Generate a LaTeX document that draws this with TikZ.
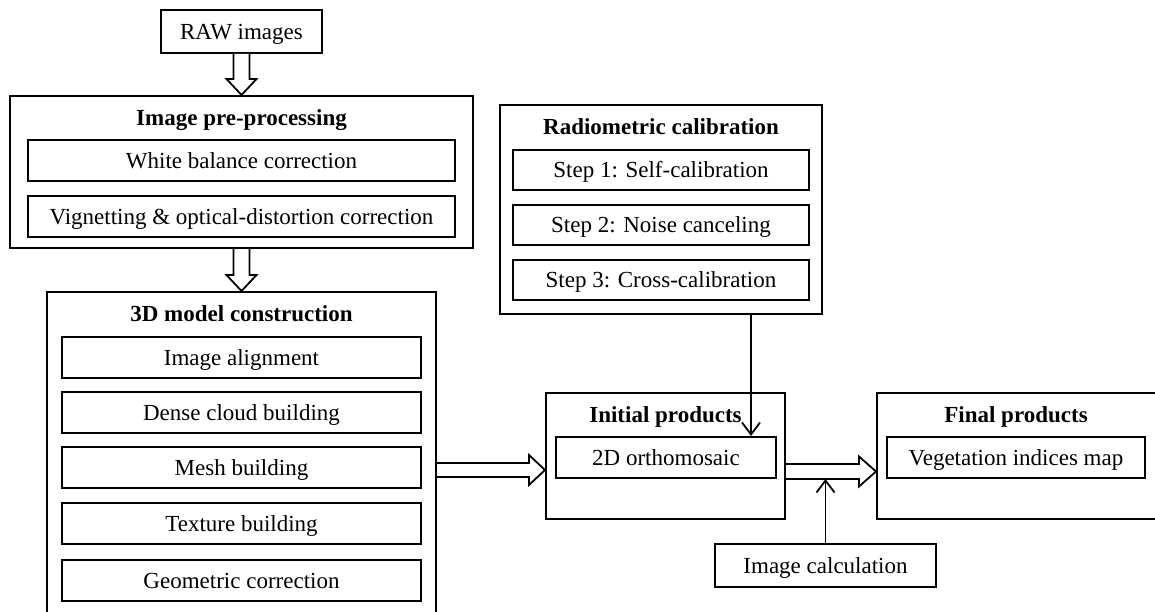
\documentclass[tikz,border=0pt]{standalone}
\usepackage{fontspec}
\setmainfont{Liberation Serif}
\usetikzlibrary{calc,arrows.meta}
\begin{document}
\begin{tikzpicture}[x=1pt,y=-1pt,
  every node/.style={font=\fontsize{23}{27}\selectfont,text height=15.2pt,text depth=0pt},
  outerbox/.style={draw,line width=2pt,inner sep=0pt},
  innerbox/.style={draw,line width=2pt,inner sep=0pt,minimum height=41pt},
  ttl/.style={font=\fontsize{23}{27}\selectfont\bfseries,inner sep=0pt},
  hollow/.style={draw,line width=1.8pt,fill=white,line join=miter},
  conn/.style={line width=1.8pt,-{Straight Barb[length=12pt,width=18pt,line width=1.8pt]}}]
\useasboundingbox (0,0) rectangle (1155,612);
\clip (0,0) rectangle (1155,612);
\fill[white] (0,0) rectangle (1155,612);
% RAW
\node[innerbox,minimum width=161pt,minimum height=43pt] (raw) at (241.5,31.5) {RAW images};
% pre-processing
\node[outerbox,minimum width=463pt,minimum height=152pt] (pre) at (241.5,172) {};
\node[ttl] (pret) at (241.5,118) {Image pre-processing};
\node[innerbox,minimum width=427pt] (wb) at (241.5,160.5) {White balance correction};
\node[innerbox,minimum width=427pt] (vig) at (241.5,216.5) {Vignetting \& optical-distortion correction};
% 3D model
\node[outerbox,minimum width=389pt,minimum height=338pt] (m3d) at (241.5,461) {};
\node[ttl] (m3dt) at (241.5,314) {3D model construction};
\node[innerbox,minimum width=359pt] (ia) at (241.5,357.5) {Image alignment};
\node[innerbox,minimum width=359pt] (dc) at (241.5,412.5) {Dense cloud building};
\node[innerbox,minimum width=359pt] (mb) at (241.5,467.5) {Mesh building};
\node[innerbox,minimum width=359pt] (tb) at (241.5,523.5) {Texture building};
\node[innerbox,minimum width=359pt] (gc) at (241.5,580.5) {Geometric correction};
% radiometric
\node[outerbox,minimum width=322pt,minimum height=209pt] (rad) at (661,209.5) {};
\node[ttl] (radt) at (661,127) {Radiometric calibration};
\node[innerbox,minimum width=296pt,minimum height=40pt] (s1) at (661,170) {Step 1: Self-calibration};
\node[innerbox,minimum width=296pt,minimum height=40pt] (s2) at (661,225) {Step 2: Noise canceling};
\node[innerbox,minimum width=296pt,minimum height=40pt] (s3) at (661,280) {Step 3: Cross-calibration};
% initial
\node[outerbox,minimum width=239pt,minimum height=126pt] (init) at (665.5,456) {};
\node[ttl] (initt) at (665.5,415) {Initial products};
\node[innerbox,minimum width=220pt] (ortho) at (666,457.5) {2D orthomosaic};
% final
\node[outerbox,minimum width=285pt,minimum height=126pt] (fin) at (1019.5,456) {};
\node[ttl] (fint) at (1016,415) {Final products};
\node[innerbox,minimum width=258pt] (veg) at (1016,457.5) {Vegetation indices map};
% calc
\node[innerbox,minimum width=221pt,minimum height=43pt] (calc) at (825.5,565.5) {Image calculation};
% hollow arrows vertical
\draw[hollow] ($(raw.south)+(-8,0)$) -- ($(pre.north)+(-8,-16)$) -- ($(pre.north)+(-15,-16)$) -- (pre.north)
  -- ($(pre.north)+(15,-16)$) -- ($(pre.north)+(8,-16)$) -- ($(raw.south)+(8,0)$);
\draw[hollow] ($(vig.south |- pre.south)+(-8,0)$) -- ($(m3d.north)+(-8,-16)$) -- ($(m3d.north)+(-15,-16)$) -- (m3d.north)
  -- ($(m3d.north)+(15,-16)$) -- ($(m3d.north)+(8,-16)$) -- ($(vig.south |- pre.south)+(8,0)$);
% hollow arrows horizontal
\coordinate (h1) at (0,470);
\coordinate (h2) at (0,471.5);
\draw[hollow] ($(m3d.east |- h1)+(0,-7)$) -- ($(init.west |- h1)+(-16,-7)$) -- ($(init.west |- h1)+(-16,-15)$) -- (init.west |- h1)
  -- ($(init.west |- h1)+(-16,15)$) -- ($(init.west |- h1)+(-16,7)$) -- ($(m3d.east |- h1)+(0,7)$);
\draw[hollow] ($(init.east |- h2)+(0,-7.5)$) -- ($(fin.west |- h2)+(-17,-7.5)$) -- ($(fin.west |- h2)+(-17,-15)$) -- (fin.west |- h2)
  -- ($(fin.west |- h2)+(-17,15)$) -- ($(fin.west |- h2)+(-17,7.5)$) -- ($(init.east |- h2)+(0,7.5)$);
% connectors
\coordinate (v1) at (751,0);
\draw[conn] (rad.south -| v1) -- (ortho.north -| v1);
\coordinate (h2b) at (0,479);
\draw[conn] (calc.north) -- (calc.north |- h2b);
\end{tikzpicture}
\end{document}
